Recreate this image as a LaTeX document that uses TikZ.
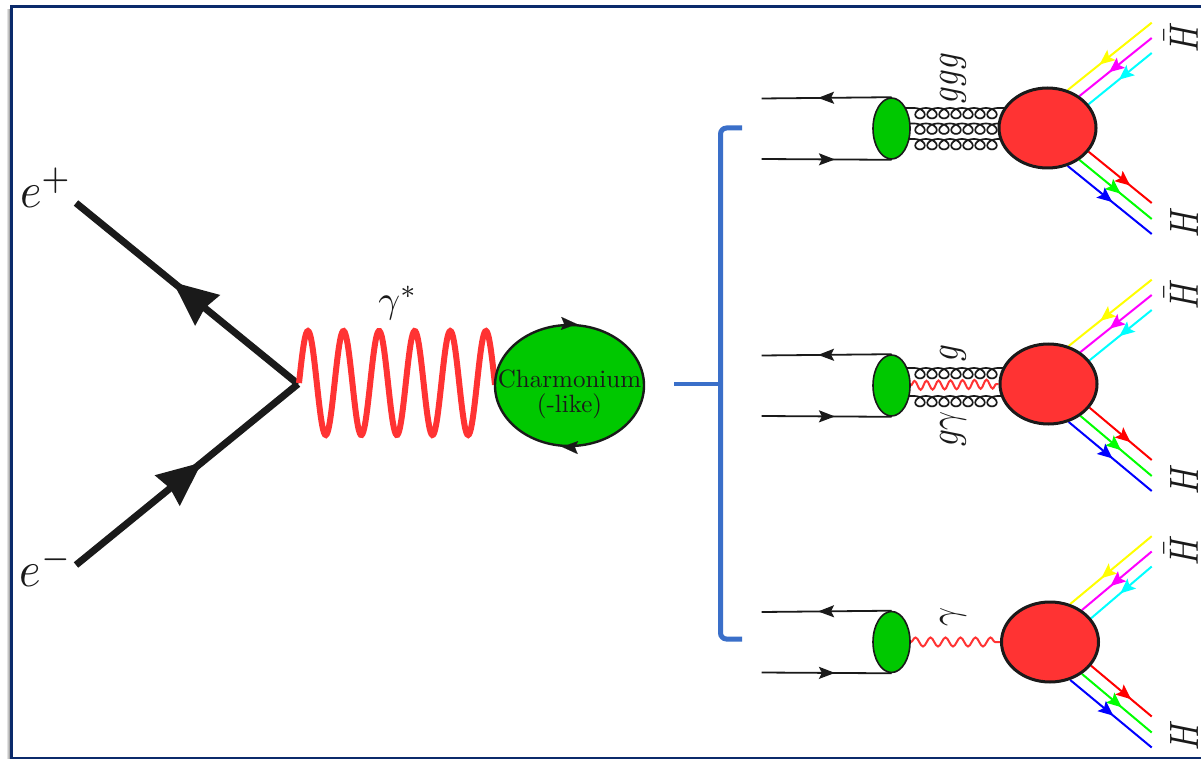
\documentclass[tikz,border=0pt]{standalone}
\usetikzlibrary{arrows.meta,decorations.markings,decorations.pathmorphing,shapes.geometric,backgrounds,calc}
\definecolor{framec}{HTML}{0B2A6B}
\definecolor{inkc}{HTML}{1A1A1A}
\definecolor{greenc}{HTML}{00C800}
\definecolor{redc}{HTML}{FF3333}
\definecolor{bluec}{HTML}{3A6FC9}
\definecolor{fy}{HTML}{FFFF00}
\definecolor{fm}{HTML}{FF00FF}
\definecolor{fc}{HTML}{00FFFF}
\definecolor{fr}{HTML}{FF0000}
\definecolor{fg}{HTML}{00FF00}
\definecolor{fb}{HTML}{0000FF}
\tikzset{
  x=1pt,y=-1pt,
  flow/.style n args={3}{decoration={markings,mark=at position #1 with {\arrow{Stealth[length=#2,width=#3,inset=3pt]}}},postaction={decorate}},
  quark/.style={draw=inkc,line width=1.8pt,flow={#1}{16pt}{12pt}},
  fan/.style 2 args={draw=#1,line width=2pt,decoration={markings,mark=at position #2 with {\arrow[#1]{Stealth[length=15pt,width=13pt,inset=3pt]}}},postaction={decorate}},
  lepton/.style={draw=inkc,line width=7pt,flow={#1}{44pt}{38pt}},
  blobg/.style={ellipse,draw=inkc,fill=greenc,inner sep=0pt},
  blobr/.style={ellipse,draw=inkc,fill=redc,line width=3pt,inner sep=0pt,minimum width=97pt,minimum height=80pt},
  gluonline/.style={draw=inkc,line width=1.7pt},
  gamsmall/.style={draw=redc,line width=2pt,decorate,decoration={snake,amplitude=4.5pt,segment length=#1}},
  lab/.style={inner sep=0pt,text=inkc},
  rlab/.style={lab,rotate=90,xscale=3.3,yscale=4.1}
}
\newcommand\gluonrow[3]{%
  \draw[gluonline] (#1.center |- 0,#3) -- plot[domain=0:2520,samples=169] ({914+0.03333*\x+7.5*sin(\x)},{#3+5.2*(1-cos(\x))}) -- (#2.center |- 0,#3);
}
\newcommand\hpanel[4]{%
  \node[blobg,line width=1.6pt,minimum width=37pt,minimum height=61pt] (#1g) at (891.5,128.5+#2) {};
  \node[blobr] (#1r) at (#3,#4) {};
  \coordinate (#1a) at (761.5,98.5+#2);
  \coordinate (#1b) at (761.5,159+#2);
  \coordinate (#1ye) at (1151.7,22.7+#2);
  \coordinate (#1me) at (1151.7,38+#2);
  \coordinate (#1cy) at (1151.7,53+#2);
  \coordinate (#1re) at (1151.7,203+#2);
  \coordinate (#1gr) at (1151.7,219+#2);
  \coordinate (#1bl) at (1151.7,234+#2);
  \node[rlab] (#1hb) at (1181,37+#2) {$\bar H$};
  \node[rlab] (#1h) at (1184,222+#2) {$H$};
  \begin{scope}[on background layer]
    \draw[quark=0.565] (#1g.north) -- (#1a);
    \draw[quark=0.565] (#1b) -- (#1g.south);
    \draw[fan={fy}{0.62}] (#1ye) -- (#1r.62);
    \draw[fan={fm}{0.59}] (#1me) -- (#1r.45);
    \draw[fan={fc}{0.52}] (#1cy) -- (#1r.30);
    \draw[fan={fr}{0.66}] (#1r.-30) -- (#1re);
    \draw[fan={fg}{0.57}] (#1r.-45) -- (#1gr);
    \draw[fan={fb}{0.53}] (#1r.-62) -- (#1bl);
  \end{scope}
}
\begin{document}
\begin{tikzpicture}
\useasboundingbox (0,0) rectangle (1201,759);
% frame
\begin{scope}[on background layer]
  \fill[white] (0,0) rectangle (1201,759);
  \shade[left color=white,right color=black!45] (6,10) rectangle (10,759);
  \draw[framec,line width=3pt] (11,7) rectangle (1206,758);
\end{scope}
% left part
\coordinate (ep) at (76,203);
\coordinate (em) at (76,565);
\coordinate (vtx) at (298,384);
\node[ellipse,draw=inkc,fill=greenc,line width=2.4pt,inner sep=0pt,minimum width=149pt,minimum height=121pt] (blob) at (569.5,385.5) {};
\node[lab,align=center,font=\fontsize{10}{10}\selectfont,scale=2.5] (ctext) at (569.5,394) {Charmonium\\(-like)};
\node[lab,xscale=4.6,yscale=5] (lep) at (46,188) {$e^+$};
\node[lab,xscale=4.6,yscale=5] (lem) at (46,567) {$e^-$};
\node[lab,scale=3.8] (lgs) at (398,303) {$\gamma^*$};
\begin{scope}[on background layer]
  \draw[lepton=0.563] (vtx) -- (ep);
  \draw[lepton=0.567] (em) -- (vtx);
  \draw[redc,line width=6pt,shift={(vtx)}] plot[domain=0:196,samples=220,smooth] ({1+\x},{-1-52*sin(\x*10.1124)});
\end{scope}
\draw[inkc,line width=.01pt,-{Stealth[length=16pt,width=13pt,inset=3pt]}] (blob.north) -- (blob.83);
\draw[inkc,line width=.01pt,-{Stealth[length=16pt,width=13pt,inset=3pt]}] (blob.south) -- (blob.263);
% bracket
\coordinate (bt) at (742,128);
\coordinate (bb) at (742,639);
\coordinate (bm) at (720,384);
\coordinate (bl) at (674,384);
\draw[bluec,line width=5pt,rounded corners=6pt] (bt) -- (720.5,128) -- (720.5,639) -- (bb);
\draw[bluec,line width=4pt] (bl) -- (bm);
% panels
\hpanel{p}{0}{1047.5}{128}
\hpanel{q}{257}{1048.5}{384}
\hpanel{s}{513.5}{1050}{642}
% gluons and small photons
\begin{scope}[on background layer]
  \gluonrow{pg}{pr}{108}
  \gluonrow{pg}{pr}{123.5}
  \gluonrow{pg}{pr}{139}
  \gluonrow{qg}{qr}{368}
  \draw[gamsmall=12pt] (qg.east) -- (qr.west);
  \gluonrow{qg}{qr}{396}
  \draw[gamsmall=15pt] (sg.east) -- (sr.west);
\end{scope}
\node[rlab] (l1) at (953,78) {$ggg$};
\node[rlab] (l2) at (953,353) {$g$};
\node[rlab] (l3) at (953,429) {$g\gamma$};
\node[rlab] (l4) at (953,617) {$\gamma$};
\end{tikzpicture}
\end{document}
